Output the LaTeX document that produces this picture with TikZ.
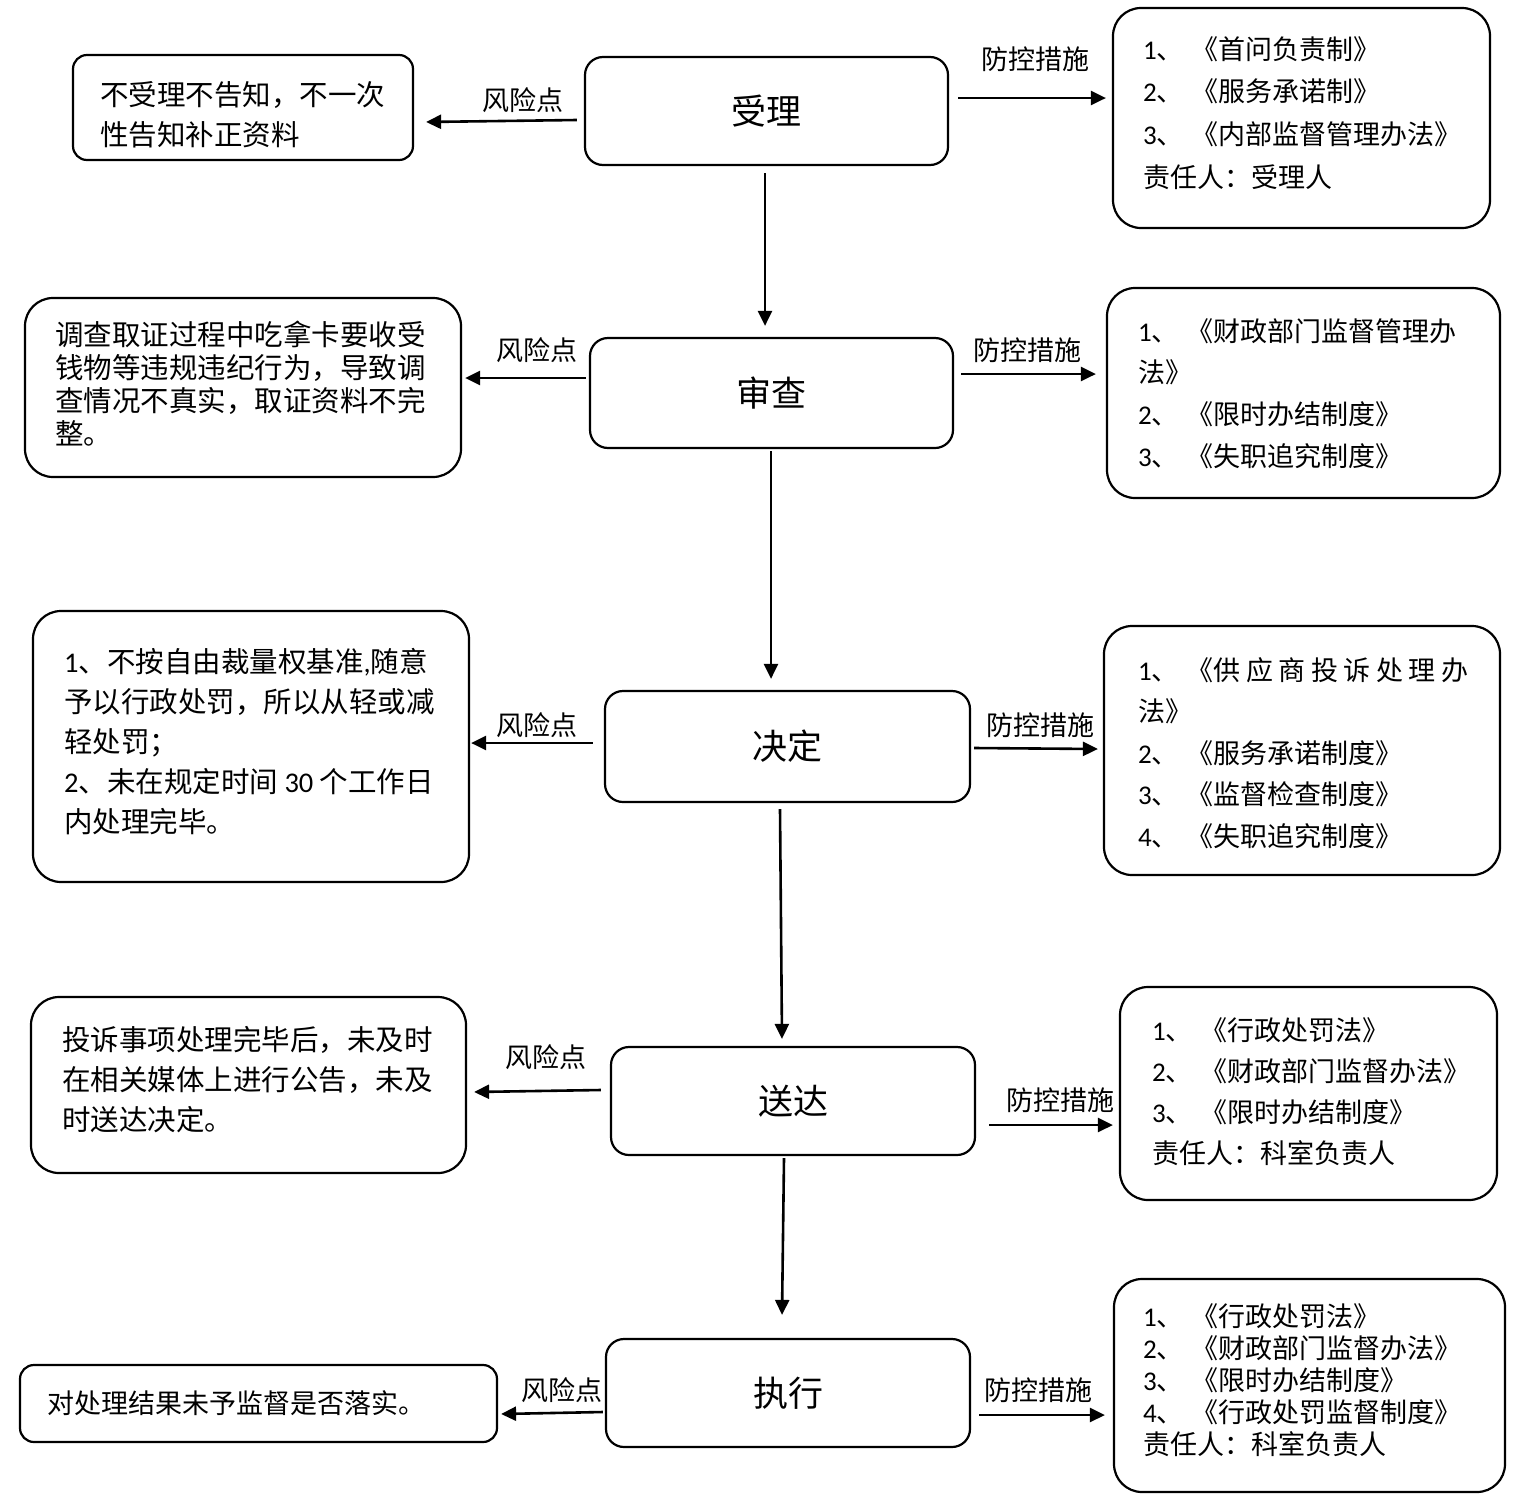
\documentclass[tikz,border=0pt]{standalone}
\usepackage{fontspec}
\setmainfont{Noto Sans CJK SC}
\newfontfamily\lat{Carlito}
\usetikzlibrary{arrows.meta}
\newcommand\dg[1]{{\lat #1}}
\newcommand\kg{\hspace{5.5pt}}
\newcommand\dn{、\hspace{8pt}}
\tikzset{
  mainbox/.style={draw, line width=2.2pt, rounded corners=18pt, font=\fontsize{35}{40}\selectfont, inner sep=0pt},
  sidebox/.style={draw, line width=2.2pt, rounded corners=28pt, inner sep=0pt},
  smallbox/.style={draw, line width=2.2pt, rounded corners=14pt, inner sep=0pt},
  txt/.style={anchor=north west, inner sep=0pt, align=left},
  lbl/.style={inner sep=0pt, font=\fontsize{27}{30}\selectfont},
  arr/.style={line width=2.6pt, -{Triangle[length=15pt,width=14pt]}},
}
\begin{document}
\begin{tikzpicture}[x=1pt,y=-1pt]
\fill[white] (0,0) rectangle (1529,1494);
\useasboundingbox (0,0) rectangle (1529,1494);

% ---------- row 1 ----------
\node[mainbox, minimum width=363pt, minimum height=108pt] (n1) at (766.5,111) {受理};
\node[smallbox, minimum width=340pt, minimum height=105pt] (l1) at (243,107.5) {};
\node[sidebox, minimum width=377pt, minimum height=220pt] (r1) at (1301.5,118) {};
\node[txt, font=\fontsize{28.5}{40}\selectfont] (l1t) at (100,81) {不受理不告知，不一次\\性告知补正资料};
\node[txt, font=\fontsize{27}{42.7}\selectfont] (r1t) at (1143,36) {\dg{1}\dn《首问负责制》\\\dg{2}\dn《服务承诺制》\\\dg{3}\dn《内部监督管理办法》\\责任人：受理人};
\node[lbl] (k1) at (523,100) {风险点};
\node[lbl] (f1) at (1035,59) {防控措施};
\draw[arr] ([shift={(-7,9)}]n1.west) -- ([shift={(12,14.5)}]l1.east);
\draw[arr] ([shift={(9,-13)}]n1.east) -- ([shift={(-6,-20)}]r1.west);

% ---------- row 2 ----------
\node[mainbox, minimum width=363pt, minimum height=110pt] (n2) at (771.5,393) {审查};
\node[sidebox, minimum width=436pt, minimum height=179pt] (l2) at (243,387.5) {};
\node[sidebox, minimum width=393pt, minimum height=210pt] (r2) at (1303.5,393) {};
\node[txt, font=\fontsize{28.5}{33}\selectfont] (l2t) at (55,321) {调查取证过程中吃拿卡要收受\\钱物等违规违纪行为，导致调\\查情况不真实，取证资料不完\\整。};
\node[txt, font=\fontsize{27}{41.7}\selectfont] (r2t) at (1138,318) {\dg{1}\dn《财政部门监督管理办\\法》\\\dg{2}\dn《限时办结制度》\\\dg{3}\dn《失职追究制度》};
\node[lbl] (k2) at (537,350) {风险点};
\node[lbl] (f2) at (1027,350) {防控措施};
\draw[arr] ([shift={(-3,-15)}]n2.west) -- ([shift={(3,-9.5)}]l2.east);
\draw[arr] ([shift={(7,-19)}]n2.east) -- ([shift={(-10,-19)}]r2.west);

% ---------- row 3 ----------
\node[mainbox, minimum width=365pt, minimum height=111pt] (n3) at (787.5,746.5) {决定};
\node[sidebox, minimum width=436pt, minimum height=271pt] (l3) at (251,746.5) {};
\node[sidebox, minimum width=396pt, minimum height=249pt] (r3) at (1302,750.5) {};
\node[txt, font=\fontsize{28.5}{40}\selectfont] (l3t) at (64,648) {\dg{1}、不按自由裁量权基准\dg{,}随意\\予以行政处罚，所以从轻或减\\轻处罚；\\\dg{2}、未在规定时间 \dg{30} 个工作日\\内处理完毕。};
\node[txt, font=\fontsize{27}{41.5}\selectfont] (r3t) at (1138,657) {\dg{1}\dn《供\kg 应\kg 商\kg 投\kg 诉\kg 处\kg 理\kg 办\\法》\\\dg{2}\dn《服务承诺制度》\\\dg{3}\dn《监督检查制度》\\\dg{4}\dn《失职追究制度》};
\node[lbl] (k3) at (537,725) {风险点};
\node[lbl] (f3) at (1040,725) {防控措施};
\draw[arr] ([shift={(-11,-3.5)}]n3.west) -- ([shift={(1,-3.5)}]l3.east);
\draw[arr] ([shift={(3,1.5)}]n3.east) -- ([shift={(-5,-1.5)}]r3.west);

% ---------- row 4 ----------
\node[mainbox, minimum width=364pt, minimum height=108pt] (n4) at (793,1101) {送达};
\node[sidebox, minimum width=435pt, minimum height=176pt] (l4) at (248.5,1085) {};
\node[sidebox, minimum width=377pt, minimum height=213pt] (r4) at (1308.5,1093.5) {};
\node[txt, font=\fontsize{28.5}{40}\selectfont] (l4t) at (62,1026) {投诉事项处理完毕后，未及时\\在相关媒体上进行公告，未及\\时送达决定。};
\node[txt, font=\fontsize{27}{41.3}\selectfont] (r4t) at (1152,1017) {\dg{1}\dn《行政处罚法》\\\dg{2}\dn《财政部门监督办法》\\\dg{3}\dn《限时办结制度》\\责任人：科室负责人};
\node[lbl] (k4) at (546,1057) {风险点};
\node[lbl] (f4) at (1060,1100) {防控措施};
\draw[arr] ([shift={(-9,-11)}]n4.west) -- ([shift={(7,7)}]l4.east);
\draw[arr] ([shift={(13,24)}]n4.east) -- ([shift={(-6,31.5)}]r4.west);

% ---------- row 5 ----------
\node[mainbox, minimum width=364pt, minimum height=108pt] (n5) at (788,1393) {执行};
\node[smallbox, minimum width=477pt, minimum height=77pt] (l5) at (258.5,1403.5) {};
\node[sidebox, minimum width=391pt, minimum height=213pt] (r5) at (1309.5,1385.5) {};
\node[txt, font=\fontsize{27}{32}\selectfont] (l5t) at (47,1390) {对处理结果未予监督是否落实。};
\node[txt, font=\fontsize{27}{32}\selectfont] (r5t) at (1143,1303) {\dg{1}\dn《行政处罚法》\\\dg{2}\dn《财政部门监督办法》\\\dg{3}\dn《限时办结制度》\\\dg{4}\dn《行政处罚监督制度》\\责任人：科室负责人};
\node[lbl] (k5) at (562,1390) {风险点};
\node[lbl] (f5) at (1038,1390) {防控措施};
\draw[arr] ([shift={(-2,19)}]n5.west) -- ([shift={(3,10.5)}]l5.east);
\draw[arr] ([shift={(8,22)}]n5.east) -- ([shift={(-8,29.5)}]r5.west);

% ---------- vertical flow ----------
\draw[arr] ([shift={(-1.5,7)}]n1.south) -- ([shift={(-6.5,-11)}]n2.north);
\draw[arr] ([shift={(-0.5,2)}]n2.south) -- ([shift={(-16.5,-11)}]n3.north);
\draw[arr] ([shift={(-7.5,6)}]n3.south) -- ([shift={(-11,-7)}]n4.north);
\draw[arr] ([shift={(-9,2)}]n4.south) -- ([shift={(-6,-23)}]n5.north);
\end{tikzpicture}
\end{document}
